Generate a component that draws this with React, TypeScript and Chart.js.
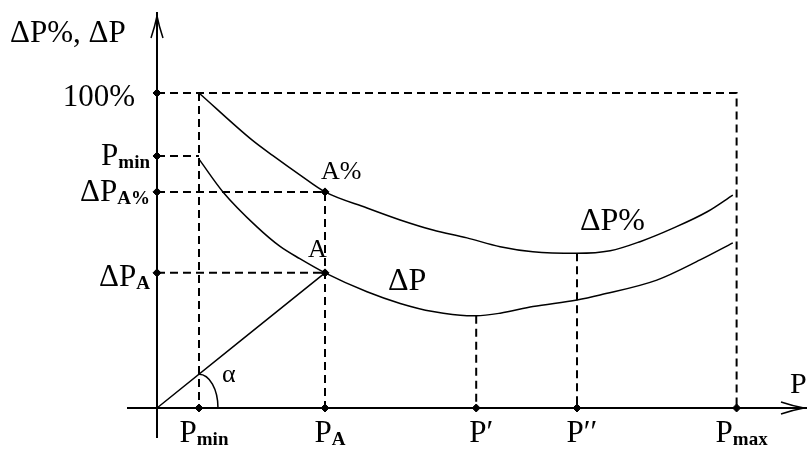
import React, { useEffect, useRef } from "react";
import { Chart, registerables } from "chart.js";
Chart.register(...registerables);

const FONT = '"Liberation Serif", "DejaVu Serif", serif';

// Axis tick positions and labels
const xTickValues = [1, 4, 7.6, 10, 13.8]; // Pmin, PA, P', P'', Pmax
const xTickMain = ["P", "P", "P′", "P′′", "P"];
const xTickSub = ["min", "A", "", "", "max"];

const yTickValues = [100, 80, 68.6, 42.9]; // 100%, Pmin, ΔPA%, ΔPA
const yTickMain = ["100%", "P", "ΔP", "ΔP"];
const yTickSub = ["", "min", "A%", "A"];

// Curve ΔP%
const curvePctX = [1, 2.26, 2.76, 3.4, 4, 5, 5.79, 6.57, 7.38, 8.17, 8.95, 10, 10.79, 11.5, 12.29, 13.1, 13.71];
const curvePctY = [100, 85.1, 80.1, 74.0, 68.6, 63.5, 59.7, 56.5, 54.0, 51.2, 49.6, 49.1, 49.9, 52.8, 57.1, 62.3, 67.6];

// Curve ΔP
const curveAbsX = [1, 1.57, 2.38, 2.93, 3.4, 4, 5, 5.79, 6.57, 7.38, 7.6, 8.17, 8.95, 10, 10.55, 11.9, 12.93, 13.71];
const curveAbsY = [79, 68.6, 57.5, 51.3, 47.4, 42.9, 36.9, 33.2, 30.6, 29.3, 29.3, 30.1, 32.2, 34.3, 35.9, 40.6, 47.0, 52.4];

// Key points
const pointA = { x: 4, y: 42.9 };
const pointApct = { x: 4, y: 68.6 };
const minAbs = { x: 7.6, y: 29.3 };
const minPct = { x: 10, y: 49.1 };

const X_MIN = -3.738;
const X_MAX = 15.476;
const Y_MIN = -13.016;
const Y_MAX = 129.52;

function zip(xs: number[], ys: number[]) {
  return xs.map((x, i) => ({ x, y: ys[i] }));
}

function drawSub(
  ctx: CanvasRenderingContext2D,
  main: string,
  sub: string,
  x: number,
  y: number,
  align: "left" | "right" | "center",
  mainSize: number,
  subSize: number
) {
  const mf = `${mainSize}px ${FONT}`;
  const sf = `bold ${subSize}px ${FONT}`;
  ctx.font = mf;
  const wm = ctx.measureText(main).width;
  ctx.font = sf;
  const ws = sub ? ctx.measureText(sub).width : 0;
  const total = wm + ws;
  const left = align === "right" ? x - total : align === "center" ? x - total / 2 : x;
  ctx.textAlign = "left";
  ctx.textBaseline = "alphabetic";
  ctx.font = mf;
  ctx.fillText(main, left, y);
  if (sub) {
    ctx.font = sf;
    ctx.fillText(sub, left + wm, y + 3);
  }
}

const overlay = {
  id: "overlay",
  afterDatasetsDraw(chart: any) {
    const ctx: CanvasRenderingContext2D = chart.ctx;
    const xs = chart.scales.x;
    const ys = chart.scales.y;
    const ox = xs.getPixelForValue(0);
    const oy = ys.getPixelForValue(0);
    const area = chart.chartArea;
    ctx.save();
    ctx.strokeStyle = "#000";
    ctx.fillStyle = "#000";
    ctx.lineWidth = 2;
    ctx.setLineDash([]);
    // Y axis
    const topY = area.top + 12;
    ctx.beginPath();
    ctx.moveTo(ox, oy + 30);
    ctx.lineTo(ox, topY);
    ctx.stroke();
    ctx.lineWidth = 1.5;
    ctx.beginPath();
    ctx.moveTo(ox - 6, topY + 26);
    ctx.quadraticCurveTo(ox - 2, topY + 14, ox, topY + 4);
    ctx.quadraticCurveTo(ox + 2, topY + 14, ox + 6, topY + 26);
    ctx.stroke();
    // X axis
    const rightX = area.right;
    ctx.lineWidth = 2;
    ctx.beginPath();
    ctx.moveTo(ox - 30, oy);
    ctx.lineTo(rightX, oy);
    ctx.stroke();
    ctx.lineWidth = 1.5;
    ctx.beginPath();
    ctx.moveTo(rightX - 26, oy - 6);
    ctx.quadraticCurveTo(rightX - 14, oy - 2, rightX - 3, oy);
    ctx.quadraticCurveTo(rightX - 14, oy + 2, rightX - 26, oy + 6);
    ctx.stroke();

    // angle arc at Pmin
    const cx = xs.getPixelForValue(xTickValues[0]);
    const lineY = ys.getPixelForValue((pointA.y / pointA.x) * xTickValues[0]);
    ctx.lineWidth = 1.5;
    ctx.beginPath();
    ctx.ellipse(cx, oy, 19, oy - lineY, 0, -Math.PI / 2, 0);
    ctx.stroke();

    // Y axis labels
    const yOff = [13, 9, 9, 13];
    yTickValues.forEach((v, i) => {
      const py = ys.getPixelForValue(v);
      if (!yTickSub[i]) {
        drawSub(ctx, yTickMain[i], "", ox - 22, py + yOff[i], "right", 31, 19);
      } else {
        drawSub(ctx, yTickMain[i], yTickSub[i], ox - 7, py + yOff[i], "right", 31, 19);
      }
    });
    // X axis labels
    xTickValues.forEach((v, i) => {
      const px = xs.getPixelForValue(v);
      drawSub(ctx, xTickMain[i], xTickSub[i], px + 5, oy + 34, "center", 31, 19);
    });

    // Axis titles
    drawSub(ctx, "ΔP%, ΔP", "", area.left + 10, area.top + 42, "left", 31, 19);
    drawSub(ctx, "P", "", rightX - 17, oy - 15, "left", 30, 19);

    // Point labels
    const axp = xs.getPixelForValue(pointApct.x);
    drawSub(ctx, "A%", "", axp - 4, ys.getPixelForValue(pointApct.y) - 13, "left", 26, 19);
    drawSub(ctx, "A", "", axp - 17, ys.getPixelForValue(pointA.y) - 16, "left", 26, 19);
    drawSub(ctx, "ΔP", "", xs.getPixelForValue(5.5), ys.getPixelForValue(pointA.y) + 17, "left", 32, 19);
    drawSub(ctx, "ΔP%", "", xs.getPixelForValue(10.07), ys.getPixelForValue(minPct.y) - 23, "left", 32, 19);
    // alpha
    ctx.font = `26px ${FONT}`;
    ctx.textAlign = "left";
    ctx.fillText("α", cx + 23, oy - 26);
    ctx.restore();
  },
};

export default function App() {
  const ref = useRef<HTMLCanvasElement | null>(null);
  useEffect(() => {
    if (!ref.current) return;
    const solid = (data: { x: number; y: number }[], w = 1.5) => ({
      type: "line" as const,
      data,
      borderColor: "#000",
      borderWidth: w,
      pointRadius: 0,
      fill: false,
      cubicInterpolationMode: "monotone" as const,
      showLine: true,
      clip: false as any,
    });
    const dashed = (data: { x: number; y: number }[]) => ({
      type: "line" as const,
      data,
      borderColor: "#000",
      borderWidth: 2,
      borderDash: [8, 5],
      pointRadius: 0,
      fill: false,
      tension: 0,
      showLine: true,
      clip: false as any,
    });
    const Pmin = xTickValues[0];
    const PA = xTickValues[1];
    const Pmax = xTickValues[4];
    const diamonds = [
      ...yTickValues.map((v) => ({ x: 0, y: v })),
      ...xTickValues.map((v) => ({ x: v, y: 0 })),
      pointA,
      pointApct,
    ];
    const chart = new Chart(ref.current, {
      type: "scatter",
      data: {
        datasets: [
          dashed([{ x: 0, y: yTickValues[0] }, { x: Pmax, y: yTickValues[0] }, { x: Pmax, y: 0 }]),
          dashed([{ x: Pmin, y: yTickValues[0] }, { x: Pmin, y: 0 }]),
          dashed([{ x: 0, y: yTickValues[1] }, { x: Pmin, y: yTickValues[1] }]),
          dashed([{ x: 0, y: pointApct.y }, { x: PA, y: pointApct.y }, { x: PA, y: 0 }]),
          dashed([{ x: 0, y: pointA.y }, { x: PA, y: pointA.y }]),
          dashed([{ x: minAbs.x, y: minAbs.y }, { x: minAbs.x, y: 0 }]),
          dashed([{ x: minPct.x, y: minPct.y }, { x: minPct.x, y: 0 }]),
          solid(zip(curvePctX, curvePctY)),
          solid(zip(curveAbsX, curveAbsY)),
          solid([{ x: 0, y: 0 }, pointA], 1.5),
          {
            type: "scatter" as const,
            data: diamonds,
            pointStyle: "rectRot",
            pointRadius: 4,
            backgroundColor: "#000",
            borderColor: "#000",
            borderWidth: 1,
            showLine: false,
            clip: false as any,
          },
        ] as any,
      },
      options: {
        animation: false,
        responsive: true,
        maintainAspectRatio: false,
        layout: { padding: 0, autoPadding: false },
        plugins: { legend: { display: false }, tooltip: { enabled: false } },
        events: [],
        scales: {
          x: { type: "linear", min: X_MIN, max: X_MAX, display: false },
          y: { type: "linear", min: Y_MIN, max: Y_MAX, display: false },
        },
      },
      plugins: [overlay],
    });
    return () => chart.destroy();
  }, []);
  return (
    <div style={{ position: "absolute", left: 0, top: 0, width: 807, height: 449, background: "#fff" }}>
      <canvas ref={ref} />
    </div>
  );
}
